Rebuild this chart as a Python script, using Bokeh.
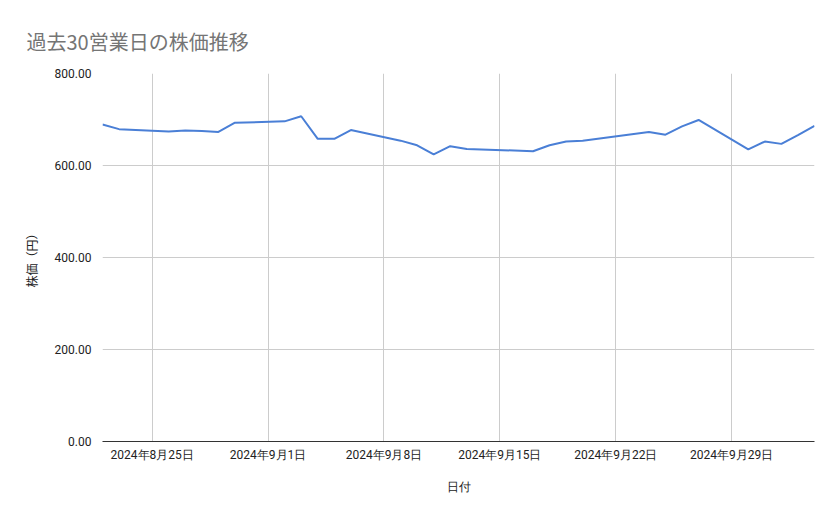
import pandas as pd
from bokeh.plotting import figure
from bokeh.models import FixedTicker, Range1d, ColumnDataSource
from bokeh.embed import file_html
from bokeh.resources import INLINE

# --- data ---
dates = [
    "2024-08-22", "2024-08-23", "2024-08-26", "2024-08-27", "2024-08-28",
    "2024-08-29", "2024-08-30", "2024-09-02", "2024-09-03", "2024-09-04",
    "2024-09-05", "2024-09-06", "2024-09-09", "2024-09-10", "2024-09-11",
    "2024-09-12", "2024-09-13", "2024-09-17", "2024-09-18", "2024-09-19",
    "2024-09-20", "2024-09-24", "2024-09-25", "2024-09-26", "2024-09-27",
    "2024-09-30", "2024-10-01", "2024-10-02", "2024-10-03", "2024-10-04",
]
prices = [
    689, 679, 674, 676, 675,
    673, 693, 696, 707, 658,
    658, 677, 654, 644, 624,
    642, 636, 631, 644, 652,
    654, 673, 667, 685, 699,
    635, 652, 647, 666, 686,
]
tick_dates = ["2024-08-25", "2024-09-01", "2024-09-08", "2024-09-15", "2024-09-22", "2024-09-29"]
tick_labels = ["2024年8月25日", "2024年9月1日", "2024年9月8日", "2024年9月15日", "2024年9月22日", "2024年9月29日"]
y_ticks = [0, 200, 400, 600, 800]
y_tick_labels = ["0.00", "200.00", "400.00", "600.00", "800.00"]
title_text = "過去30営業日の株価推移"
x_title = "日付"
y_title = "株価（円）"

# --- convert dates to day offsets ---
origin = pd.Timestamp(dates[0])
x_days = [(pd.Timestamp(d) - origin).days for d in dates]
tick_days = [(pd.Timestamp(d) - origin).days for d in tick_dates]

source = ColumnDataSource(dict(x=x_days, y=prices))

FONT = "Roboto"

p = figure(
    width=823, height=503,
    output_backend="svg", toolbar_location=None,
    x_range=Range1d(x_days[0], x_days[-1]),
    y_range=Range1d(0, 800),
    min_border_left=102, min_border_right=9,
    min_border_top=73, min_border_bottom=62,
)
p.outline_line_color = None
p.background_fill_color = "white"
p.border_fill_color = "white"

# title
p.title.text = title_text
p.title.align = "left"
p.title.text_font = "Noto Sans CJK JP"
p.title.text_font_size = "20px"
p.title.text_line_height = 0.6
p.title.text_font_style = "normal"
p.title.text_color = "#757575"
p.title.standoff = 36
p.title.offset = -76

p.line("x", "y", source=source, line_color="#4a7fd6", line_width=2)

# x axis
xa = p.xaxis[0]
xa.ticker = FixedTicker(ticks=tick_days)
xa.major_label_overrides = {d: lab for d, lab in zip(tick_days, tick_labels)}
xa.axis_label = x_title
xa.axis_label_text_font = FONT
xa.axis_label_text_font_style = "normal"
xa.axis_label_text_font_size = "12px"
xa.axis_label_text_color = "#222222"
xa.axis_label_standoff = 15
xa.major_label_text_font = FONT
xa.major_label_text_font_size = "12px"
xa.major_label_text_color = "#222222"
xa.major_label_standoff = 0
xa.major_tick_line_color = None
xa.minor_tick_line_color = None
xa.axis_line_color = "#333333"
xa.axis_line_width = 1

# y axis
ya = p.yaxis[0]
ya.ticker = FixedTicker(ticks=y_ticks)
ya.major_label_overrides = {v: lab for v, lab in zip(y_ticks, y_tick_labels)}
ya.axis_label = y_title
ya.axis_label_text_font = "Noto Sans CJK JP"
ya.axis_label_text_font_style = "normal"
ya.axis_label_text_font_size = "12px"
ya.axis_label_text_color = "#222222"
ya.axis_label_standoff = 12
ya.major_label_text_font = FONT
ya.major_label_text_font_size = "12px"
ya.major_label_text_color = "#222222"
ya.major_label_standoff = 5
ya.major_tick_line_color = None
ya.minor_tick_line_color = None
ya.axis_line_color = None

# grid
p.xgrid.grid_line_color = "#cccccc"
p.ygrid.grid_line_color = "#cccccc"
p.xgrid.grid_line_width = 1
p.ygrid.grid_line_width = 1

open("out.html", "w").write(file_html(p, INLINE))
